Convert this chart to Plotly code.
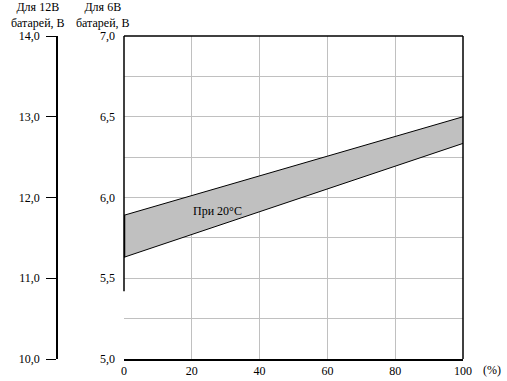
import plotly.graph_objects as go

# Data
charge_pct = [0, 100]
upper_6v = [5.89, 6.50]
lower_6v = [5.63, 6.335]
x_ticks = [0, 20, 40, 60, 80, 100]
y6_ticks = [5.0, 5.5, 6.0, 6.5, 7.0]
y6_labels = ["5,0", "5,5", "6,0", "6,5", "7,0"]
y12_ticks = [10, 11, 12, 13, 14]
y12_labels = ["10,0", "11,0", "12,0", "13,0", "14,0"]
band_label = "При 20°C"

FONT = "Liberation Serif"
FS = 12
W, H = 507, 381
ML, MR, MT, MB = 20, 44, 36, 22
pw = W - ML - MR
dom0 = (124 - ML) / pw
pos2 = (57 - ML) / pw

fig = go.Figure()
fig.add_trace(go.Scatter(x=charge_pct, y=lower_6v, mode="lines",
                         line=dict(color="black", width=1), showlegend=False, hoverinfo="skip"))
fig.add_trace(go.Scatter(x=charge_pct, y=upper_6v, mode="lines", fill="tonexty",
                         fillcolor="#c0c0c0",
                         line=dict(color="black", width=1), showlegend=False, hoverinfo="skip"))
fig.add_trace(go.Scatter(x=[charge_pct[0], charge_pct[0]], y=[lower_6v[0], upper_6v[0]], mode="lines",
                         line=dict(color="black", width=2.5), showlegend=False, hoverinfo="skip"))
# invisible trace on the 12V axis so it is rendered
fig.add_trace(go.Scatter(x=[0], y=[12], yaxis="y2", mode="markers", marker=dict(opacity=0),
                         showlegend=False, hoverinfo="skip"))

grid_vals = [5 + 0.25 * i for i in range(9)]
grid_text = [y6_labels[y6_ticks.index(v)] if v in y6_ticks else "" for v in grid_vals]

fig.update_layout(
    width=W, height=H,
    margin=dict(l=ML, r=MR, t=MT, b=MB),
    paper_bgcolor="white", plot_bgcolor="white",
    font=dict(family=FONT, size=FS, color="black"),
    xaxis=dict(domain=[dom0, 1], range=[0, 100], tickvals=x_ticks,
               ticktext=[str(v) for v in x_ticks],
               showgrid=True, gridcolor="#c0c0c0", gridwidth=1,
               zeroline=False, showline=True, linecolor="black", linewidth=1.5,
               mirror=False, ticks="", ticklen=0, automargin=False,
               tickfont=dict(family=FONT, size=FS)),
    yaxis=dict(range=[5, 7], tickvals=grid_vals, ticktext=grid_text,
               showgrid=True, gridcolor="#c0c0c0", gridwidth=1,
               zeroline=False, showline=False, ticks="", ticklabelstandoff=8,
               automargin=False, tickfont=dict(family=FONT, size=FS)),
    yaxis2=dict(range=[10, 14], tickvals=y12_ticks, ticktext=y12_labels,
                overlaying="y", anchor="free", position=pos2, side="left",
                showgrid=False, zeroline=False, showline=True, linecolor="black",
                linewidth=1.5, ticks="outside", ticklen=10, tickcolor="black",
                tickwidth=1, automargin=False, ticklabelstandoff=4,
                tickfont=dict(family=FONT, size=FS)),
)

# Frame lines
fig.add_shape(type="line", xref="x domain", yref="y", x0=0, x1=0, y0=5.42, y1=7,
              line=dict(color="black", width=1.5))
fig.add_shape(type="line", xref="x domain", yref="y domain", x0=1, x1=1, y0=0, y1=1,
              line=dict(color="black", width=1.5))
fig.add_shape(type="line", xref="x domain", yref="y domain", x0=0, x1=1, y0=1, y1=1,
              line=dict(color="black", width=1.5))

fig.add_annotation(x=27.7, y=5.915, xref="x", yref="y", text=band_label, showarrow=False,
                   xanchor="center", font=dict(family=FONT, size=FS))
fig.add_annotation(x=(492 - ML) / pw, y=0, xref="paper", yref="paper", yshift=-11,
                   xanchor="center", yanchor="middle", text="(%)", showarrow=False,
                   font=dict(family=FONT, size=FS))
fig.add_annotation(x=(38 - ML) / pw, y=1, xref="paper", yref="paper", yshift=MT + 2,
                   xanchor="center", yanchor="top",
                   text="Для 12В<br>батарей, В", showarrow=False, align="center",
                   font=dict(family=FONT, size=FS))
fig.add_annotation(x=(103 - ML) / pw, y=1, xref="paper", yref="paper", yshift=MT + 2,
                   xanchor="center", yanchor="top",
                   text="Для 6В<br>батарей, В", showarrow=False, align="center",
                   font=dict(family=FONT, size=FS))

fig.write_html("out.html", config={"displayModeBar": False},
               post_script="document.body.style.margin='0';")
